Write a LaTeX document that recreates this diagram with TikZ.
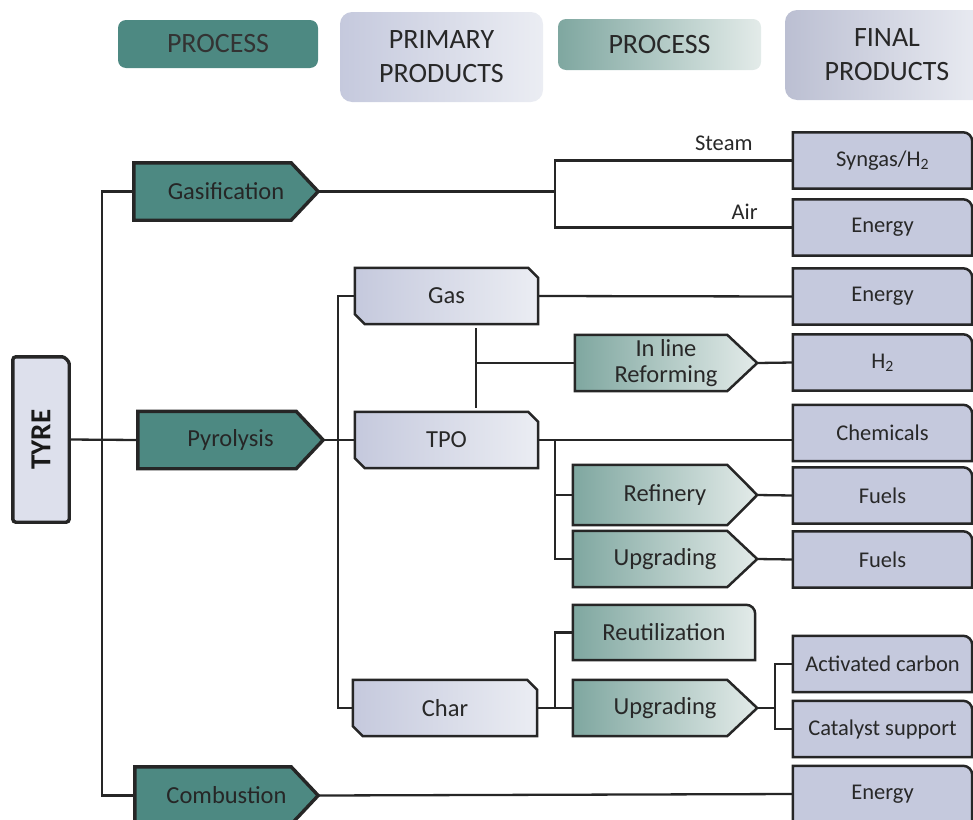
\documentclass[tikz,border=0pt]{standalone}
\usepackage{fontspec}
\setmainfont{Carlito}
\usepackage{graphicx}
\usetikzlibrary{backgrounds,calc}

\definecolor{tealdark}{HTML}{4D8982}
\definecolor{teallight}{HTML}{7FA7A0}
\definecolor{tealpale}{HTML}{E3EBE9}
\definecolor{lavdark}{HTML}{C5C9DD}
\definecolor{lavpale}{HTML}{EBEDF3}
\definecolor{tyrefill}{HTML}{DDE0EC}
\definecolor{linegray}{HTML}{262626}
\definecolor{txtgray}{HTML}{282828}

\begin{document}
\begin{tikzpicture}[x=1pt,y=-1pt,
    every node/.style={inner sep=0pt,align=center,text=txtgray,
      font=\fontsize{24.5}{26}\selectfont},
    head/.style={rounded corners=8pt,font=\fontsize{28}{34}\selectfont},
    prc/.style={minimum width=184pt,minimum height=57pt,text=black!85},
    box/.style={minimum width=183pt,minimum height=56pt},
    fin/.style={minimum width=179pt,minimum height=56pt,font=\fontsize{22.5}{24}\selectfont},
    lbl/.style={font=\fontsize{22.5}{24}\selectfont},
    conn/.style={draw=linegray,line width=2.3pt},
    darkline/.style={draw=black!85,line width=3.4pt,fill=tealdark},
    paleline/.style={draw=linegray,line width=2.5pt}]

  \useasboundingbox (0,0) rectangle (973,819);

  \node[head,fill=tealdark,text=black!80,minimum width=200pt,minimum height=48pt] (hproca) at (218,44) {PROCESS};
  \node[head,left color=lavdark,right color=lavpale,minimum width=203pt,minimum height=90pt,rounded corners=12pt] (hprim) at (441.5,57) {PRIMARY\\PRODUCTS};
  \node[head,left color=teallight,right color=tealpale,minimum width=203pt,minimum height=51pt] (hprocb) at (659.5,44.5) {PROCESS};
  \node[head,left color=lavdark!95!black,right color=lavpale,minimum width=204pt,minimum height=90pt,rounded corners=12pt] (hfinal) at (887,55) {FINAL\\PRODUCTS};

  \node[minimum width=56pt,minimum height=165pt,text=black!90] (tyre) at (41,439.5) {\rotatebox{90}{\fontsize{29}{32}\selectfont\bfseries TYRE}};

  \node[prc] (gasif) at (226,191.5) {Gasification};
  \node[prc,minimum width=185pt] (pyro) at (230.5,440) {Pyrolysis};
  \node[prc,minimum width=183pt] (comb) at (226.5,795.5) {Combustion};

  \node[box] (gas) at (446.5,296) {Gas};
  \node[box] (tpo) at (446.5,440) {TPO};
  \node[box,minimum width=184pt] (char) at (445,708) {Char};

  \node[box,minimum width=182pt] (reform) at (666,363) {In line\\Reforming};
  \node[box,minimum width=184pt,minimum height=60pt] (refin) at (665,495) {Refinery};
  \node[box,minimum width=184pt] (upgtpo) at (665,559) {Upgrading};
  \node[box,minimum width=182pt,minimum height=55pt] (reutil) at (664,632.5) {Reutilization};
  \node[box,minimum width=184pt] (upgchar) at (665,708) {Upgrading};

  \node[fin] (syngas) at (882.5,160.5) {Syngas/H\textsubscript{2}};
  \node[fin] (energya) at (882.5,227.5) {Energy};
  \node[fin] (energyb) at (882.5,296.5) {Energy};
  \node[fin] (htwo) at (882.5,362.5) {H\textsubscript{2}};
  \node[fin] (chem) at (882.5,433) {Chemicals};
  \node[fin] (fuela) at (882.5,495.5) {Fuels};
  \node[fin] (fuelb) at (882.5,559.5) {Fuels};
  \node[fin] (actc) at (882.5,664) {Activated carbon};
  \node[fin] (cats) at (882.5,729) {Catalyst support};
  \node[fin] (energyc) at (882.5,794) {Energy};

  \node[lbl,anchor=south east] (steam) at ([xshift=-40pt,yshift=10pt]syngas.west) {Steam};
  \node[lbl,anchor=south east] (air) at ([xshift=-35pt,yshift=8pt]energya.west) {Air};

  \coordinate (bus) at (102,440);
  \coordinate (gfork) at (555,191.5);
  \coordinate (pbus) at (338,440);
  \coordinate (gtx) at (476,363);
  \coordinate (tfork) at (555,440);
  \coordinate (cfork) at (555,708);
  \coordinate (ufork) at (775,708);

  \draw[conn] (tyre.east) -- (pyro.west);
  \draw[conn] (gasif.west) -| (bus) |- (comb.west);
  \draw[conn] (gasif.east) -- (gfork);
  \draw[conn] (syngas.west) -| (gfork) |- (energya.west);
  \draw[conn] (pyro.east) -- (tpo.west);
  \draw[conn] (gas.west) -| (pbus) |- (char.west);
  \draw[conn] (gas.east) -- (energyb.west);
  \draw[conn,shorten <=4pt,shorten >=4pt] (gas.south -| gtx) -- (tpo.north -| gtx);
  \draw[conn] (gtx) -- (reform.west);
  \draw[conn] (reform.east) -- (htwo.west);
  \draw[conn] (tpo.east) -- (tpo.east -| chem.west);
  \draw[conn] (refin.west) -| (tfork) |- (upgtpo.west);
  \draw[conn] (refin.east) -- (fuela.west);
  \draw[conn] (upgtpo.east) -- (fuelb.west);
  \draw[conn] (char.east) -- (upgchar.west);
  \draw[conn] (cfork) |- (reutil.west);
  \draw[conn] (upgchar.east) -- (ufork);
  \draw[conn] (actc.west) -| (ufork) |- (cats.west);
  \draw[conn] (comb.east) -- (energyc.west);

  \begin{pgfonlayer}{background}
    \foreach \n in {gasif,pyro,comb}
      \draw[darkline] (\n.north west) -- ($(\n.north east)+(-27,0)$) -- (\n.east)
        -- ($(\n.south east)+(-27,0)$) -- (\n.south west) -- cycle;
    \foreach \n in {reform,refin,upgtpo,upgchar}
      \draw[paleline,left color=teallight,right color=tealpale] (\n.north west)
        -- ($(\n.north east)+(-30,0)$) -- (\n.east) -- ($(\n.south east)+(-30,0)$)
        -- (\n.south west) -- cycle;
    \foreach \n in {gas,tpo,char}
      \draw[paleline,left color=lavdark,right color=lavpale] (\n.north west)
        -- ($(\n.north east)+(-10,0)$) -- ($(\n.north east)+(0,10)$) -- (\n.south east)
        -- ($(\n.south west)+(10,0)$) -- ($(\n.south west)+(0,-10)$) -- cycle;
    \foreach \n in {syngas,energya,energyb,htwo,chem,fuela,fuelb,actc,cats,energyc}
      \draw[paleline,left color=lavdark,middle color=lavpale,right color=lavdark]
        (\n.south west) -- (\n.north west) -- ($(\n.north east)+(-9,0)$)
        arc[start angle=90,end angle=0,radius=9pt] -- (\n.south east) -- cycle;
    \draw[paleline,left color=teallight,right color=tealpale] (reutil.south west)
      -- (reutil.north west) -- ($(reutil.north east)+(-9,0)$)
      arc[start angle=90,end angle=0,radius=9pt] -- (reutil.south east) -- cycle;
    \draw[darkline,fill=tyrefill,rounded corners=3pt] (tyre.south west) -- (tyre.north west)
      -- ($(tyre.north east)+(-10,0)$) arc[start angle=90,end angle=0,radius=10pt]
      -- (tyre.south east) -- cycle;
  \end{pgfonlayer}
\end{tikzpicture}
\end{document}
